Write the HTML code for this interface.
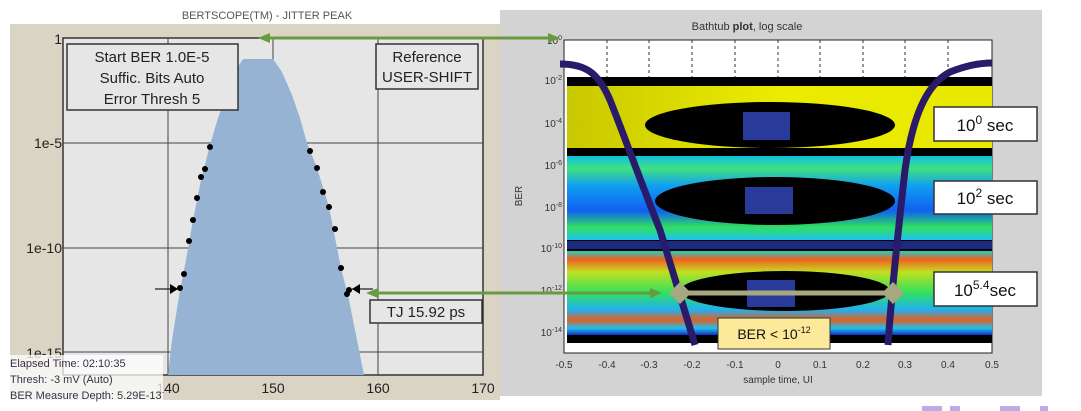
<!DOCTYPE html>
<html><head><meta charset="utf-8"><style>
html,body{margin:0;padding:0;background:#fff;width:1081px;height:411px;overflow:hidden}
svg{display:block}
text{font-family:"Liberation Sans",sans-serif}
</style></head><body>
<svg width="1081" height="411" viewBox="0 0 1081 411" xmlns="http://www.w3.org/2000/svg">
<defs>
<linearGradient id="yl" x1="0" x2="1"><stop offset="0" stop-color="#c8c800"/><stop offset="0.5" stop-color="#ecec00"/><stop offset="1" stop-color="#e8e800"/></linearGradient>
<linearGradient id="bl" x1="0" y1="0" x2="0" y2="1"><stop offset="0" stop-color="#10c0e0"/><stop offset="0.15" stop-color="#40e080"/><stop offset="0.35" stop-color="#10a0f0"/><stop offset="0.65" stop-color="#1060f0"/><stop offset="0.85" stop-color="#30e060"/><stop offset="1" stop-color="#20c0f0"/></linearGradient>
<linearGradient id="gl" x1="0" y1="0" x2="0" y2="1"><stop offset="0" stop-color="#20d0c0"/><stop offset="0.1" stop-color="#f06020"/><stop offset="0.25" stop-color="#c0e020"/><stop offset="0.5" stop-color="#30e060"/><stop offset="0.7" stop-color="#20b0f0"/><stop offset="0.82" stop-color="#e06020"/><stop offset="0.92" stop-color="#20c0f0"/><stop offset="1" stop-color="#1030c0"/></linearGradient>
</defs>
<!-- LEFT PANEL -->
<text x="267" y="19" font-size="11" fill="#555" text-anchor="middle">BERTSCOPE(TM) - JITTER PEAK</text>
<rect x="10" y="24" width="490" height="376" fill="#d9d4c4"/>
<rect x="63" y="38" width="420" height="337" fill="#e6e6e6" stroke="#333" stroke-width="1.5"/>
<g stroke="#444" stroke-width="1">
<line x1="63" y1="143" x2="483" y2="143"/><line x1="63" y1="248" x2="483" y2="248"/><line x1="63" y1="352" x2="483" y2="352"/>
<line x1="168" y1="38" x2="168" y2="375"/><line x1="273" y1="38" x2="273" y2="375"/><line x1="378" y1="38" x2="378" y2="375"/>
</g>
<path d="M168,375 L172,340 L180,290 L186,260 L193,220 L201,180 L210,145 L218,118 L228,90 L237,68 L243,59 L273,59 L282,72 L292,95 L300,118 L307,143 L317,168 L329,207 L341,268 L349,300 L357,340 L364,375 Z" fill="#97b3d3"/>
<g fill="#000">
<circle cx="210" cy="147" r="3"/><circle cx="205" cy="169" r="3"/><circle cx="201" cy="177" r="3"/><circle cx="197" cy="198" r="3"/><circle cx="193" cy="220" r="3"/><circle cx="189" cy="241" r="3"/><circle cx="184" cy="274" r="3"/><circle cx="180" cy="288" r="3"/>
<circle cx="310" cy="151" r="3"/><circle cx="317" cy="168" r="3"/><circle cx="323" cy="192" r="3"/><circle cx="329" cy="207" r="3"/><circle cx="335" cy="229" r="3"/><circle cx="341" cy="268" r="3"/><circle cx="347" cy="294" r="3"/><circle cx="349" cy="290" r="3"/>
</g>
<line x1="155" y1="289" x2="178" y2="289" stroke="#222" stroke-width="1.2"/><path d="M170,284 L178,289 L170,294Z" fill="#000"/>
<line x1="352" y1="289" x2="373" y2="289" stroke="#222" stroke-width="1.2"/><path d="M360,284 L352,289 L360,294Z" fill="#000"/>
<g font-size="14" fill="#222" text-anchor="end">
<text x="62" y="44">1</text><text x="62" y="148">1e-5</text><text x="62" y="253">1e-10</text><text x="62" y="358">1e-15</text></g>
<g font-size="14" fill="#222" text-anchor="middle">
<text x="168" y="393">140</text><text x="273" y="393">150</text><text x="378" y="393">160</text><text x="483" y="393">170</text></g>
<rect x="67" y="44" width="171" height="66" fill="#e6e6e6" stroke="#333" stroke-width="1.5"/>
<g font-size="15" fill="#222" text-anchor="middle"><text x="152" y="62">Start BER 1.0E-5</text><text x="152" y="83">Suffic. Bits Auto</text><text x="152" y="104">Error Thresh 5</text></g>
<rect x="376" y="44" width="102" height="45" fill="#e6e6e6" stroke="#333" stroke-width="1.5"/>
<g font-size="15" fill="#222" text-anchor="middle"><text x="427" y="62">Reference</text><text x="427" y="82">USER-SHIFT</text></g>
<rect x="370" y="300" width="112" height="23" fill="#e6e6e6" stroke="#333" stroke-width="1.5"/>
<text x="426" y="317" font-size="15" fill="#222" text-anchor="middle">TJ 15.92 ps</text>
<rect x="8" y="355" width="155" height="45" fill="#fff" opacity="0.75"/>
<g font-size="11" fill="#334"><text x="10" y="367">Elapsed Time:  02:10:35</text><text x="10" y="383">Thresh:  -3 mV (Auto)</text><text x="10" y="399">BER Measure Depth: 5.29E-13</text></g>
<!-- RIGHT PANEL -->
<rect x="500" y="10" width="542" height="386" fill="#d3d3d3"/>
<text x="747" y="30" font-size="11" fill="#333" text-anchor="middle">Bathtub <tspan font-weight="bold">plot</tspan>, log scale</text>
<rect x="564" y="40" width="428" height="313" fill="#fff" stroke="#222" stroke-width="1"/>
<g stroke="#333" stroke-width="1" stroke-dasharray="3,3">
<line x1="607" y1="40" x2="607" y2="77"/><line x1="649" y1="40" x2="649" y2="77"/><line x1="692" y1="40" x2="692" y2="77"/><line x1="735" y1="40" x2="735" y2="77"/><line x1="778" y1="40" x2="778" y2="77"/><line x1="820" y1="40" x2="820" y2="77"/><line x1="863" y1="40" x2="863" y2="77"/><line x1="905" y1="40" x2="905" y2="77"/><line x1="948" y1="40" x2="948" y2="77"/>
</g>
<rect x="567" y="77" width="425" height="266" fill="#000"/>
<rect x="567" y="86" width="425" height="62" fill="url(#yl)"/>
<ellipse cx="770" cy="125" rx="125" ry="23" fill="#000"/>
<rect x="567" y="156" width="425" height="84" fill="url(#bl)"/>
<ellipse cx="775" cy="201" rx="120" ry="24" fill="#000"/>
<rect x="567" y="241" width="425" height="8" fill="#1a2a80"/>
<rect x="567" y="251" width="425" height="84" fill="url(#gl)"/>
<ellipse cx="785" cy="291" rx="105" ry="20" fill="#000"/>
<rect x="743" y="112" width="47" height="28" fill="#2a3a9a"/>
<rect x="745" y="187" width="48" height="27" fill="#2a3a9a"/>
<rect x="747" y="280" width="48" height="27" fill="#2a3a9a"/>
<path d="M560,64 C585,64 598,72 610,100 C622,130 640,180 660,230 C670,262 683,305 695,345" fill="none" stroke="#2a1a6a" stroke-width="7"/>
<path d="M888,345 C891,300 896,250 905,170 C912,120 925,85 950,72 C965,66 980,63 992,63" fill="none" stroke="#2a1a6a" stroke-width="7"/>
<line x1="680" y1="293" x2="893" y2="293" stroke="#a8a880" stroke-width="5"/>
<path d="M680,282 L691,293 L680,304 L669,293Z" fill="#a8a880"/>
<path d="M893,282 L904,293 L893,304 L882,293Z" fill="#a8a880"/>
<g font-size="10" fill="#333" text-anchor="end">
<text x="562" y="44">10<tspan font-size="7" dy="-4">0</tspan></text>
<text x="562" y="84">10<tspan font-size="7" dy="-4">-2</tspan></text>
<text x="562" y="127">10<tspan font-size="7" dy="-4">-4</tspan></text>
<text x="562" y="169">10<tspan font-size="7" dy="-4">-6</tspan></text>
<text x="562" y="211">10<tspan font-size="7" dy="-4">-8</tspan></text>
<text x="562" y="252">10<tspan font-size="7" dy="-4">-10</tspan></text>
<text x="562" y="294">10<tspan font-size="7" dy="-4">-12</tspan></text>
<text x="562" y="336">10<tspan font-size="7" dy="-4">-14</tspan></text>
</g>
<text x="522" y="196" font-size="10" fill="#333" text-anchor="middle" transform="rotate(-90 522 196)">BER</text>
<g font-size="10" fill="#333" text-anchor="middle">
<text x="564" y="368">-0.5</text><text x="607" y="368">-0.4</text><text x="649" y="368">-0.3</text><text x="692" y="368">-0.2</text><text x="735" y="368">-0.1</text><text x="778" y="368">0</text><text x="820" y="368">0.1</text><text x="863" y="368">0.2</text><text x="905" y="368">0.3</text><text x="948" y="368">0.4</text><text x="992" y="368">0.5</text>
</g>
<text x="778" y="383" font-size="10" fill="#333" text-anchor="middle">sample time, UI</text>
<g stroke="#333" stroke-width="1.5" fill="#fff">
<rect x="934" y="107" width="103" height="34"/><rect x="934" y="181" width="103" height="33"/><rect x="934" y="272" width="103" height="34"/></g>
<g font-size="17" fill="#111" text-anchor="middle">
<text x="985" y="131">10<tspan font-size="12" dy="-7">0</tspan><tspan dy="7"> sec</tspan></text>
<text x="985" y="204">10<tspan font-size="12" dy="-7">2</tspan><tspan dy="7"> sec</tspan></text>
<text x="985" y="296">10<tspan font-size="12" dy="-7">5.4</tspan><tspan dy="7">sec</tspan></text>
</g>
<rect x="718" y="318" width="112" height="31" fill="#fde99a" stroke="#333" stroke-width="1"/>
<text x="774" y="339" font-size="14" fill="#111" text-anchor="middle">BER &lt; 10<tspan font-size="9" dy="-6">-12</tspan></text>
<g stroke="#6a9a40" stroke-width="3">
<line x1="266" y1="38" x2="552" y2="38"/><line x1="374" y1="293" x2="652" y2="293"/></g>
<g fill="#6a9a40">
<path d="M258,38 L270,33 L270,43Z"/><path d="M560,38 L548,33 L548,43Z"/>
<path d="M366,293 L378,288 L378,298Z"/><path d="M662,293 L650,288 L650,298Z"/></g>
<g fill="#8878d8" opacity="0.6"><rect x="922" y="406" width="20" height="5"/><rect x="950" y="406" width="10" height="5"/><rect x="1000" y="406" width="20" height="5"/><rect x="1040" y="406" width="8" height="5"/></g>
</svg>
</body></html>
